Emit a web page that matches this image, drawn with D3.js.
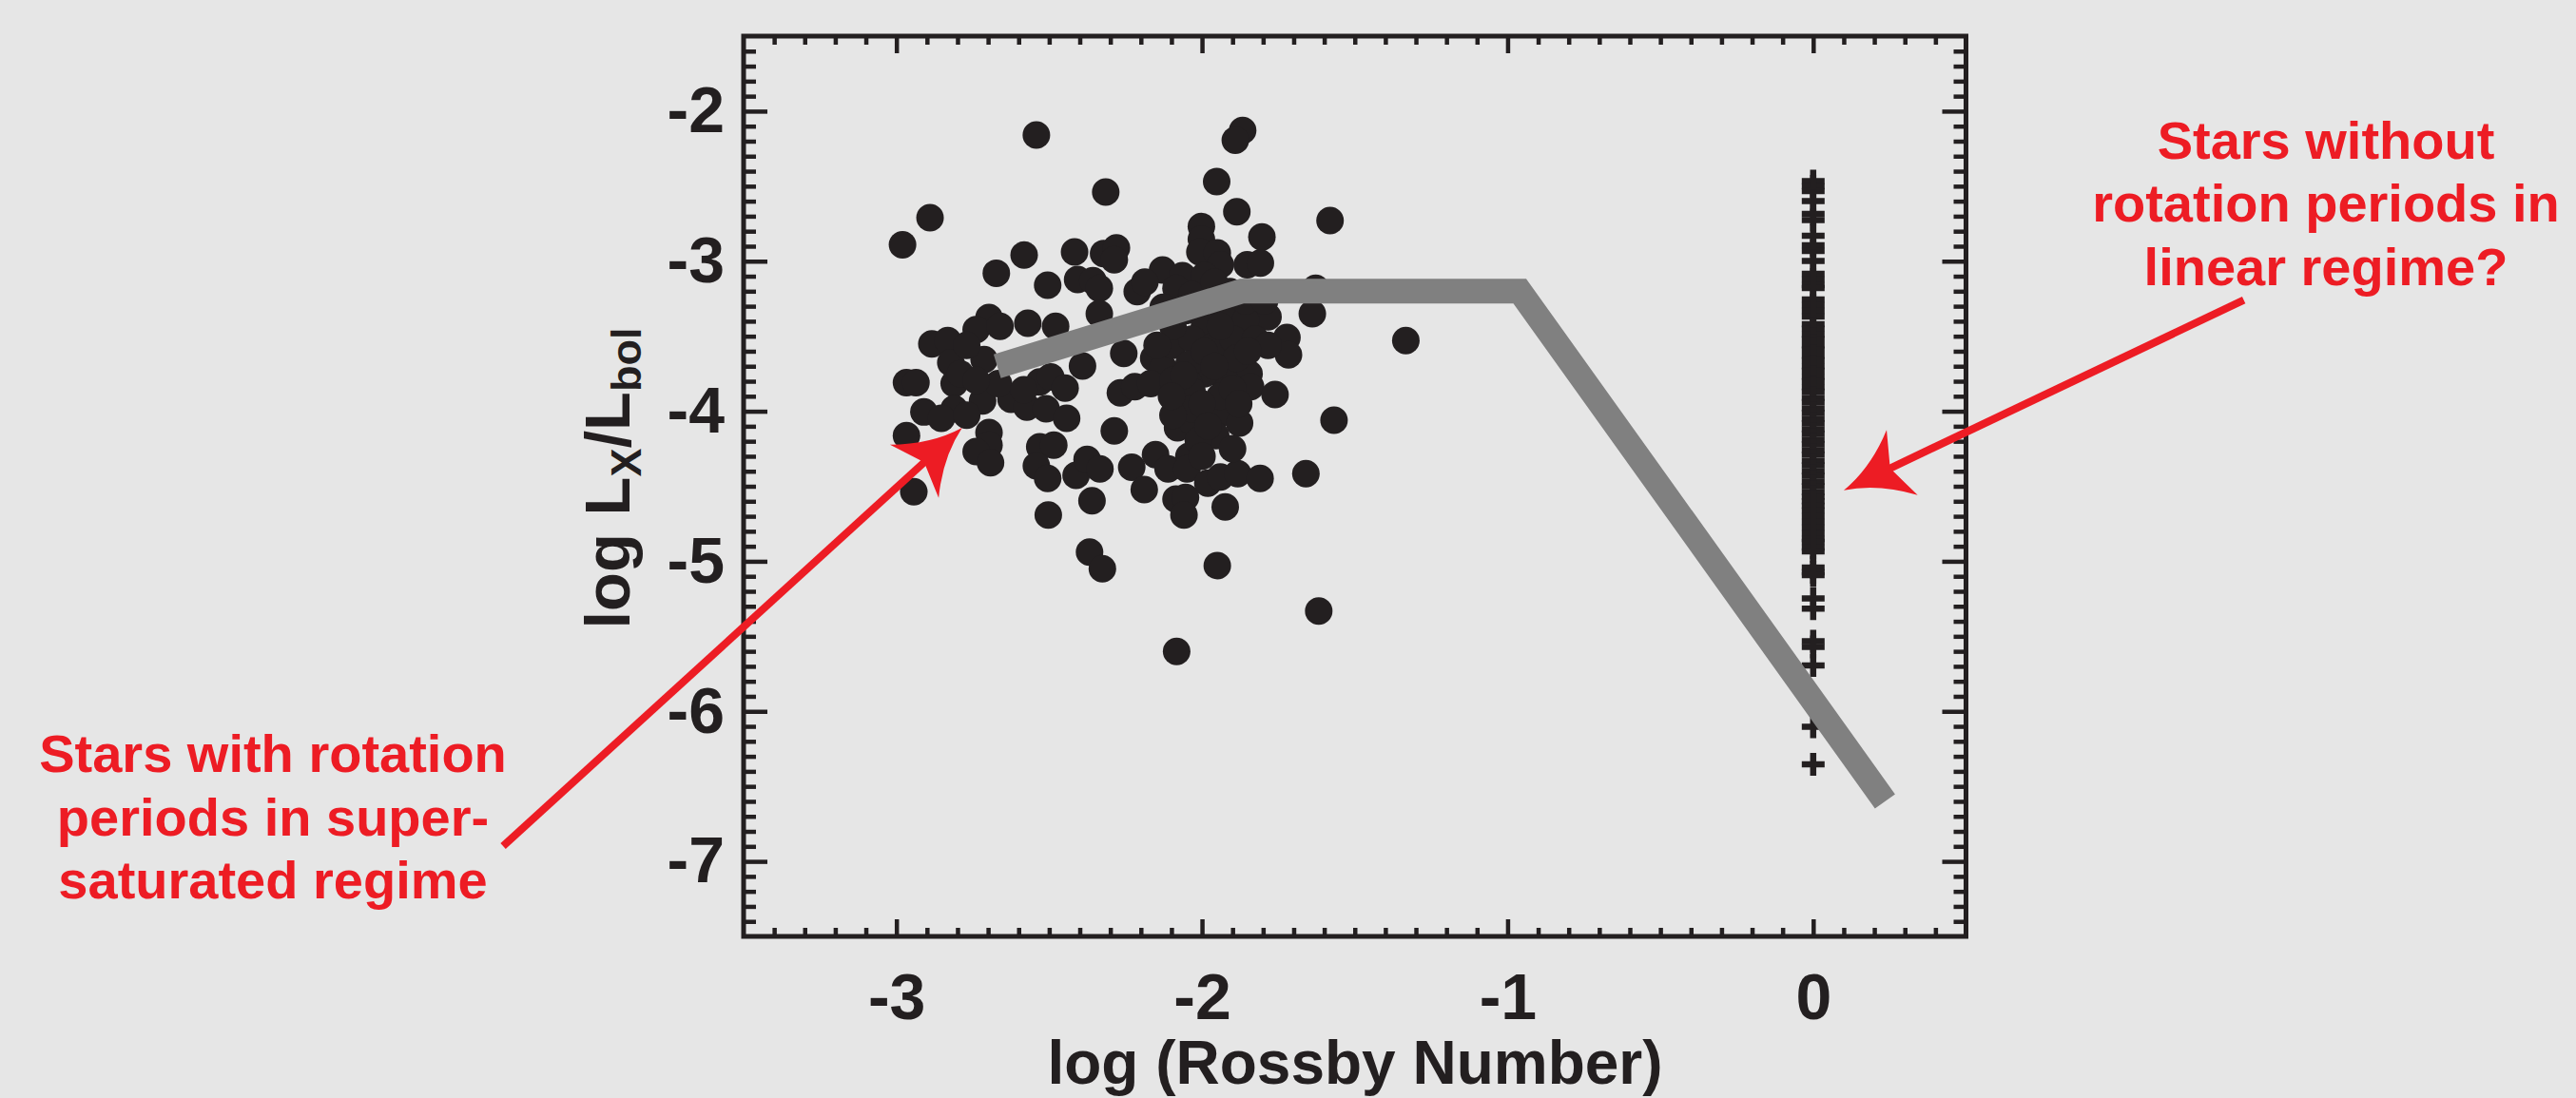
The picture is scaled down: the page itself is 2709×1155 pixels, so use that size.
<!DOCTYPE html>
<html>
<head>
<meta charset="utf-8">
<script src="https://cdn.jsdelivr.net/npm/d3@7"></script>
<style>
    body { margin: 0; background: #e6e6e6; }
    svg { display: block; }
</style>
</head>
<body>
<div class="chart"></div>
<script>
// stars with measured rotation periods: log Ro, log Lx/Lbol
let starLogRo = [
    -2.542, -1.867, -1.891, -2.315, -1.952, -2.890, -2.980, -1.886, -1.581, -2.002,
    -1.804, -2.582, -2.673, -2.417, -2.322, -2.280, -2.287, -2.505, -2.407, -2.357,
    -2.336, -2.129, -2.212, -2.187, -2.002, -2.007, -1.950, -1.940, -1.852, -1.809,
    -2.064, -1.992, -1.628, -1.639, -2.336, -2.697, -2.739, -2.661, -2.570, -2.479,
    -2.085, -2.033, -2.127, -2.054, -1.971, -1.909, -1.929, -1.784, -1.857, -1.992,
    -2.884, -2.832, -2.256, -2.822, -2.713, -2.967, -2.936, -2.811, -2.391, -2.158,
    -2.127, -2.095, -2.033, -1.960, -1.898, -1.826, -1.722, -1.717, -1.784, -1.846,
    -1.841, -1.929, -1.992, -2.043, -2.043, -1.761, -2.531, -2.495, -2.448, -2.267,
    -2.220, -2.168, -2.095, -2.033, -1.568, -1.940, -1.877, -1.955, -2.080, -2.033,
    -2.033, -2.287, -2.625, -2.573, -2.510, -2.443, -2.718, -2.811, -2.910, -2.853,
    -2.967, -2.697, -2.697, -2.739, -2.692, -2.531, -2.485, -2.542, -2.505, -2.412,
    -2.376, -2.334, -2.230, -2.152, -2.111, -2.189, -2.043, -2.049, -1.981, -1.940,
    -1.883, -1.810, -1.660, -2.085, -2.054, -2.059, -1.924, -2.360, -2.503, -2.943,
    -2.368, -2.326, -1.950, -1.333, -1.618, -2.083,
    -2.095, -1.940, -1.888, -1.992, -2.095, -1.940, -2.012, -2.095, -2.147, -1.857,
    -1.795, -1.960, -2.770, -2.791, -2.666, -2.739, -2.770, -2.583,
    -1.960, -1.900, -2.000, -1.880, -1.850, -2.060, -1.980, -2.100, -2.000, -1.900
];
let starLogLx = [
    -2.159, -2.129, -2.193, -2.539, -2.469, -2.710, -2.890, -2.670, -2.729, -2.769,
    -2.839, -2.959, -3.080, -2.938, -2.949, -2.911, -2.991, -3.160, -3.122, -3.130,
    -3.181, -3.058, -3.202, -3.139, -2.854, -2.938, -2.944, -3.023, -3.023, -3.012,
    -3.096, -3.096, -3.181, -3.350, -3.350, -3.375, -3.456, -3.434, -3.413, -3.434,
    -3.181, -3.223, -3.308, -3.329, -3.265, -3.202, -3.329, -3.371, -3.392, -3.434,
    -3.551, -3.529, -3.614, -3.677, -3.656, -3.810, -3.810, -3.815, -3.698, -3.646,
    -3.709, -3.561, -3.519, -3.561, -3.519, -3.519, -3.508, -3.624, -3.561, -3.751,
    -3.836, -3.772, -3.751, -3.688, -3.815, -3.888, -3.804, -3.772, -3.846, -3.878,
    -3.836, -3.815, -3.910, -3.867, -4.060, -4.015, -4.079, -4.163, -4.110, -4.068,
    -3.984, -4.131, -3.920, -3.973, -3.984, -4.047, -3.931, -3.984, -4.005, -4.047,
    -4.163, -4.142, -4.226, -4.269, -4.343, -4.237, -4.226, -4.364, -4.448, -4.427,
    -4.321, -4.385, -4.374, -4.290, -4.385, -4.522, -4.300, -4.385, -4.480, -4.438,
    -4.416, -4.448, -4.416, -4.585, -4.575, -4.691, -4.638, -4.596, -4.691, -4.537,
    -4.938, -5.050, -5.029, -3.529, -5.331, -5.601,
    -3.434, -3.434, -3.646, -3.603, -3.793, -3.899, -4.195, -4.026, -3.561, -3.265,
    -3.265, -3.139, -3.561, -3.751, -3.815, -3.793, -4.026, -3.857,
    -3.700, -3.850, -3.950, -3.950, -3.600, -3.760, -4.100, -3.900, -4.300, -4.250
];

// stars without rotation periods, all put at log Ro = 0
let noPeriodLogRo = 0;
let noPeriodLogLx = [
    -2.466, -2.501, -2.533, -2.599, -2.685, -2.726, -2.830, -2.894, -2.932, -2.998,
    -3.084, -3.122, -3.160, -3.179, -3.255, -3.293, -3.331, -3.369,
    -3.42, -3.45, -3.49, -3.52, -3.56, -3.59, -3.63, -3.66, -3.70, -3.73,
    -3.77, -3.80, -3.84, -3.87, -3.91, -3.94, -3.98, -4.01, -4.05, -4.08,
    -4.12, -4.15, -4.19, -4.22, -4.26, -4.29, -4.33, -4.36, -4.40, -4.43,
    -4.47, -4.50, -4.54, -4.57, -4.60,
    -4.630, -4.662, -4.700, -4.738, -4.776, -4.814, -4.852, -4.871, -4.909, -4.934,
    -5.042, -5.073, -5.092, -5.248, -5.315, -5.533, -5.571, -5.694, -6.103, -6.353
];

// activity-rotation relation (grey broken line)
let modelLogRo = [-2.67, -1.87, -0.96, 0.235];
let modelLogLx = [-3.70, -3.20, -3.20, -6.60];

let xTickLabels = ['-3', '-2', '-1', '0'];
let yTickLabels = ['-2', '-3', '-4', '-5', '-6', '-7'];

let annotationLeft = ['Stars with rotation', 'periods in super-', 'saturated regime'];
let annotationRight = ['Stars without', 'rotation periods in', 'linear regime?'];

// arrows as [start, tip] in data units
let arrowLeft = [[-4.287, -6.898], [-2.785, -4.110]];
let arrowRight = [[1.409, -3.259], [0.100, -4.527]];

let width = 2709;
let height = 1155;
let margin = { top: 38, right: 641.5, bottom: 170, left: 782 };

let ink = '#231f20';
let red = '#ed1c24';
let font = '"Liberation Sans", Arial, Helvetica, sans-serif';

let svg = d3.select('.chart')
    .append('svg')
    .attr('width', width)
    .attr('height', height);

svg.append('rect')
    .attr('width', width)
    .attr('height', height)
    .attr('fill', '#e6e6e6');

let x = d3.scaleLinear()
    .domain([-3.5, 0.5])
    .range([margin.left, width - margin.right]);
let y = d3.scaleLinear()
    .domain([-7.5, -1.5])
    .range([height - margin.bottom, margin.top]);

let xMinor = d3.range(-34, 5).filter(function(v) { return v % 10 !== 0; }).map(function(v) { return v / 10; });
let yMinor = d3.range(-74, -15).filter(function(v) { return v % 10 !== 0; }).map(function(v) { return v / 10; });

// axes: ticks on all four sides, pointing in
function drawAxis(axis, tx, ty, labels) {
    let g = svg.append('g')
        .attr('transform', 'translate(' + tx + ',' + ty + ')')
        .call(axis);
    g.select('.domain').remove();
    g.selectAll('line')
        .attr('stroke', ink)
        .attr('stroke-width', 4.5);
    g.attr('font-family', font)
        .attr('font-size', 68)
        .attr('font-weight', 'bold');
    g.selectAll('text').attr('fill', ink);
    if (!labels) {
        g.selectAll('text').remove();
    }
    return g;
}

let x0 = margin.left;
let x1 = width - margin.right;
let y0 = margin.top;
let y1 = height - margin.bottom;

drawAxis(d3.axisBottom(x).tickValues(xMinor).tickSize(-9), 0, y1, false);
drawAxis(d3.axisTop(x).tickValues(xMinor).tickSize(-9), 0, y0, false);
drawAxis(d3.axisLeft(y).tickValues(yMinor).tickSize(-13), x0, 0, false);
drawAxis(d3.axisRight(y).tickValues(yMinor).tickSize(-13), x1, 0, false);

drawAxis(d3.axisBottom(x)
    .tickValues(xTickLabels.map(Number))
    .tickSize(-18)
    .tickPadding(39)
    .tickFormat(function(d, i) { return xTickLabels[i]; }), 0, y1, true);
drawAxis(d3.axisTop(x).tickValues(xTickLabels.map(Number)).tickSize(-18), 0, y0, false);
drawAxis(d3.axisLeft(y)
    .tickValues(yTickLabels.map(Number))
    .tickSize(-25)
    .tickPadding(20)
    .tickFormat(function(d, i) { return yTickLabels[i]; }), x0, 0, true);
drawAxis(d3.axisRight(y).tickValues(yTickLabels.map(Number)).tickSize(-25), x1, 0, false);

svg.append('rect')
    .attr('x', x0)
    .attr('y', y0)
    .attr('width', x1 - x0)
    .attr('height', y1 - y0)
    .attr('fill', 'none')
    .attr('stroke', ink)
    .attr('stroke-width', 5);

// data
svg.append('g')
    .selectAll('circle')
    .data(starLogRo)
    .join('circle')
    .attr('cx', function(d) { return x(d); })
    .attr('cy', function(d, i) { return y(starLogLx[i]); })
    .attr('r', 14.5)
    .attr('fill', ink);

svg.append('g')
    .selectAll('path')
    .data(noPeriodLogLx)
    .join('path')
    .attr('transform', function(d) { return 'translate(' + x(noPeriodLogRo) + ',' + y(d) + ')'; })
    .attr('d', 'M-12,0H12M0,-12V12')
    .attr('stroke', ink)
    .attr('stroke-width', 6.5)
    .attr('fill', 'none');

let line = d3.line()
    .x(function(d) { return x(d); })
    .y(function(d, i) { return y(modelLogLx[i]); });

svg.append('path')
    .attr('d', line(modelLogRo))
    .attr('fill', 'none')
    .attr('stroke', '#808080')
    .attr('stroke-width', 26)
    .attr('stroke-linejoin', 'miter');

// axis titles
svg.append('text')
    .attr('x', 1425)
    .attr('y', 1140)
    .attr('text-anchor', 'middle')
    .attr('font-family', font)
    .attr('font-size', 64)
    .attr('font-weight', 'bold')
    .attr('fill', ink)
    .text('log (Rossby Number)');

let yTitle = svg.append('text')
    .attr('transform', 'translate(662,503) rotate(-90)')
    .attr('text-anchor', 'middle')
    .attr('font-family', font)
    .attr('font-size', 67)
    .attr('font-weight', 'bold')
    .attr('fill', ink);
yTitle.append('tspan').text('log L');
yTitle.append('tspan').attr('font-size', 45).attr('dy', 12).text('X');
yTitle.append('tspan').attr('dy', -12).text('/L');
yTitle.append('tspan').attr('font-size', 45).attr('dy', 12).text('bol');

// annotations
function annotate(lines, cx, baseY) {
    svg.append('g')
        .selectAll('text')
        .data(lines)
        .join('text')
        .attr('x', cx)
        .attr('y', function(d, i) { return baseY + i * 66.5; })
        .attr('text-anchor', 'middle')
        .attr('font-family', font)
        .attr('font-size', 56)
        .attr('font-weight', 'bold')
        .attr('fill', red)
        .text(function(d) { return d; });
}

annotate(annotationLeft, 287, 812);
annotate(annotationRight, 2446, 166.5);

function arrow(pts) {
    let sx = x(pts[0][0]), sy = y(pts[0][1]);
    let tx = x(pts[1][0]), ty = y(pts[1][1]);
    let angle = Math.atan2(ty - sy, tx - sx);
    let len = Math.hypot(tx - sx, ty - sy);

    let g = svg.append('g')
        .attr('transform', 'translate(' + tx + ',' + ty + ') rotate(' + (angle * 180 / Math.PI) + ')');

    g.append('line')
        .attr('x1', -len)
        .attr('y1', 0)
        .attr('x2', -50)
        .attr('y2', 0)
        .attr('stroke', red)
        .attr('stroke-width', 8);

    g.append('path')
        .attr('d', 'M0,0Q-36,-9 -68,-38L-54,0L-68,38Q-36,9 0,0Z')
        .attr('fill', red);
}

arrow(arrowLeft);
arrow(arrowRight);
</script>
</body>
</html>
